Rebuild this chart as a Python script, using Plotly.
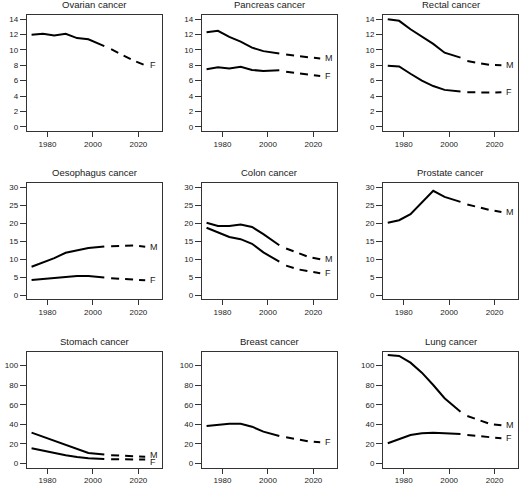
import plotly.graph_objects as go

# ---------------- data ----------------
years_obs = [1973, 1978, 1983, 1988, 1993, 1998, 2005]
years_pred = [2008, 2013, 2018, 2023]

titles = ["Ovarian cancer", "Pancreas cancer", "Rectal cancer",
          "Oesophagus cancer", "Colon cancer", "Prostate cancer",
          "Stomach cancer", "Breast cancer", "Lung cancer"]

ovarian_F_obs = [12.0, 12.1, 11.9, 12.1, 11.55, 11.4, 10.5]
ovarian_F_pred = [10.1, 9.3, 8.6, 8.0]

pancreas_M_obs = [12.3, 12.5, 11.7, 11.1, 10.3, 9.85, 9.55]
pancreas_M_pred = [9.4, 9.2, 9.05, 8.9]
pancreas_F_obs = [7.5, 7.75, 7.6, 7.8, 7.4, 7.25, 7.35]
pancreas_F_pred = [7.15, 6.95, 6.75, 6.6]

rectal_M_obs = [14.0, 13.8, 12.7, 11.8, 10.8, 9.65, 9.0]
rectal_M_pred = [8.55, 8.3, 8.05, 8.0]
rectal_F_obs = [7.95, 7.85, 6.9, 6.0, 5.3, 4.8, 4.6]
rectal_F_pred = [4.5, 4.45, 4.45, 4.5]

oesophagus_M_obs = [7.9, 9.0, 10.3, 11.8, 12.5, 13.1, 13.55]
oesophagus_M_pred = [13.65, 13.8, 13.8, 13.5]
oesophagus_F_obs = [4.2, 4.45, 4.7, 4.9, 5.3, 5.3, 4.9]
oesophagus_F_pred = [4.7, 4.5, 4.3, 4.1]

colon_M_obs = [20.2, 19.3, 19.3, 19.7, 19.0, 17.0, 13.9]
colon_M_pred = [13.0, 11.7, 10.6, 10.0]
colon_F_obs = [18.8, 17.5, 16.2, 15.6, 14.3, 11.9, 9.3]
colon_F_pred = [8.2, 7.2, 6.6, 6.1]

prostate_M_obs = [20.2, 20.9, 22.6, 26.0, 29.1, 27.4, 26.0]
prostate_M_pred = [25.3, 24.4, 23.7, 23.2]

stomach_M_obs = [31.4, 27.3, 23.2, 19.1, 14.3, 10.5, 9.0]
stomach_M_pred = [8.3, 7.7, 7.2, 6.8]
stomach_F_obs = [15.5, 13.0, 10.2, 8.2, 6.5, 5.1, 4.4]
stomach_F_pred = [4.2, 4.0, 3.9, 3.8]

breast_F_obs = [38.2, 39.6, 40.6, 40.6, 37.5, 32.4, 28.0]
breast_F_pred = [26.6, 24.5, 22.5, 21.5]

lung_M_obs = [110.9, 109.9, 103.1, 92.8, 80.2, 66.6, 52.9]
lung_M_pred = [48.5, 44.4, 40.3, 38.9]
lung_F_obs = [20.5, 24.6, 29.0, 30.7, 31.4, 30.7, 30.0]
lung_F_pred = [29.0, 28.0, 26.8, 25.6]

panels = [
    [("F", ovarian_F_obs, ovarian_F_pred)],
    [("M", pancreas_M_obs, pancreas_M_pred), ("F", pancreas_F_obs, pancreas_F_pred)],
    [("M", rectal_M_obs, rectal_M_pred), ("F", rectal_F_obs, rectal_F_pred)],
    [("M", oesophagus_M_obs, oesophagus_M_pred), ("F", oesophagus_F_obs, oesophagus_F_pred)],
    [("M", colon_M_obs, colon_M_pred), ("F", colon_F_obs, colon_F_pred)],
    [("M", prostate_M_obs, prostate_M_pred)],
    [("M", stomach_M_obs, stomach_M_pred), ("F", stomach_F_obs, stomach_F_pred)],
    [("F", breast_F_obs, breast_F_pred)],
    [("M", lung_M_obs, lung_M_pred), ("F", lung_F_obs, lung_F_pred)],
]

row_ymax = [14, 30, 110]
row_ticks = [[0, 2, 4, 6, 8, 10, 12, 14], [0, 5, 10, 15, 20, 25, 30],
             [0, 20, 40, 60, 80, 100]]
x_ticks = [1980, 2000, 2020]

# ---------------- layout geometry (px) ----------------
W, H = 524, 488
col_px = [(26.8, 161.8), (201.8, 336.8), (383.0, 518.0)]
row_px = [(15.0, 131.0), (183.3, 299.3), (351.6, 467.6)]
xrange_ = [1970.9, 2030.3]

FONT = "Liberation Sans, Arial, Helvetica, sans-serif"
TXT = "#1a1a1a"

fig = go.Figure()
annotations = []
layout_axes = {}

for i, series in enumerate(panels):
    r, c = divmod(i, 3)
    n = i + 1
    xa = "x" if n == 1 else f"x{n}"
    ya = "y" if n == 1 else f"y{n}"
    xkey = "xaxis" if n == 1 else f"xaxis{n}"
    ykey = "yaxis" if n == 1 else f"yaxis{n}"
    x0, x1 = col_px[c]
    t, b = row_px[r]
    ymax = row_ymax[r]
    pad = 0.04 * ymax

    for lab, obs, pred in series:
        fig.add_trace(go.Scatter(x=years_obs, y=obs, mode="lines", xaxis=xa, yaxis=ya,
                                 line=dict(color="black", width=2), showlegend=False,
                                 hoverinfo="skip"))
        fig.add_trace(go.Scatter(x=years_pred, y=pred, mode="lines", xaxis=xa, yaxis=ya,
                                 line=dict(color="black", width=2, dash="8px,6px"),
                                 showlegend=False, hoverinfo="skip"))
        yshift = 0
        if titles[i].startswith("Stomach"):
            yshift = 2 if lab == "M" else -2
        annotations.append(dict(x=years_pred[-1], y=pred[-1], xref=xa, yref=ya,
                                text=lab, showarrow=False, xanchor="left",
                                yanchor="middle", xshift=3, yshift=yshift,
                                font=dict(family=FONT, size=9, color=TXT)))

    layout_axes[xkey] = dict(domain=[x0 / W, x1 / W], anchor=ya, range=xrange_,
                             tickmode="array", tickvals=x_ticks,
                             ticks="outside", ticklen=5, tickwidth=1, tickcolor="#333",
                             showline=True, mirror=True, linecolor="#333", linewidth=1,
                             showgrid=False, zeroline=False,
                             tickfont=dict(family=FONT, size=8, color=TXT))
    layout_axes[ykey] = dict(domain=[1 - b / H, 1 - t / H], anchor=xa,
                             range=[-pad, ymax + pad],
                             tickmode="array", tickvals=row_ticks[r],
                             ticks="outside", ticklen=6, tickwidth=1, tickcolor="#333",
                             showline=True, mirror=True, linecolor="#333", linewidth=1,
                             showgrid=False, zeroline=False,
                             tickfont=dict(family=FONT, size=8, color=TXT))

    annotations.append(dict(x=(x0 + x1) / 2 / W, y=1 - (t - 3) / H, xref="paper",
                            yref="paper", text=titles[i], showarrow=False,
                            xanchor="center", yanchor="bottom",
                            font=dict(family=FONT, size=9.5, color=TXT)))

fig.update_layout(width=W, height=H, margin=dict(l=0, r=0, t=0, b=0),
                  paper_bgcolor="white", plot_bgcolor="white",
                  annotations=annotations, **layout_axes)

fig.write_html("out.html", config={"displayModeBar": False},
               post_script="document.body.style.margin='0';"
                           "document.body.style.overflow='hidden';")
